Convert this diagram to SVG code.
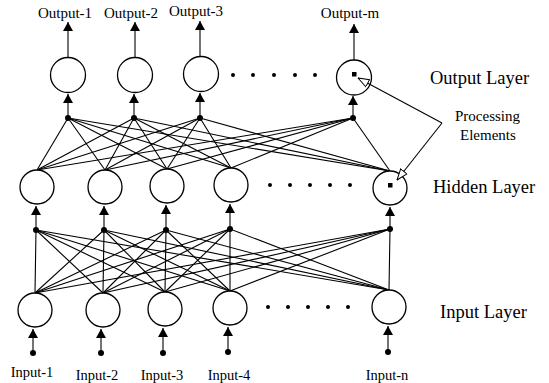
<svg xmlns="http://www.w3.org/2000/svg" width="549" height="383" viewBox="0 0 549 383">
<defs>
<marker id="ah" viewBox="0 0 9 10" refX="9" refY="5" markerWidth="9" markerHeight="10" markerUnits="userSpaceOnUse" orient="auto" preserveAspectRatio="none"><path d="M0,0 L9,5 L0,10 z" fill="#000"/></marker>
<marker id="oh" viewBox="0 0 12 10" refX="11.5" refY="5" markerWidth="12" markerHeight="10" markerUnits="userSpaceOnUse" orient="auto" preserveAspectRatio="none"><path d="M0.5,1 L11.5,5 L0.5,9 z" fill="#fff" stroke="#000" stroke-width="1"/></marker>
<style>
.n{fill:#fff;stroke:#000;stroke-width:1.3}
.c line{stroke:#000;stroke-width:1.1}
.a{stroke:#000;stroke-width:1.3;marker-end:url(#ah)}
.d{fill:#000}
.sq{fill:#000}
.t{font-family:"Liberation Serif","Times New Roman",serif;fill:#000}
.lab{font-size:15px;text-anchor:middle}
.inl{font-size:14.5px;text-anchor:middle}
.lay{font-size:18.5px}
.pe{font-size:15px}
.p{stroke:#000;stroke-width:1.1;fill:none;marker-end:url(#oh)}
</style>
</defs>
<rect width="549" height="383" fill="#fff"/>

<g id="connectors" class="c">
<line x1="68" y1="118" x2="37" y2="170"/><line x1="68" y1="118" x2="105" y2="170"/><line x1="68" y1="118" x2="167" y2="169"/><line x1="68" y1="118" x2="231" y2="168"/><line x1="68" y1="118" x2="390" y2="171"/>
<line x1="134" y1="118" x2="37" y2="170"/><line x1="134" y1="118" x2="105" y2="170"/><line x1="134" y1="118" x2="167" y2="169"/><line x1="134" y1="118" x2="231" y2="168"/><line x1="134" y1="118" x2="390" y2="171"/>
<line x1="200" y1="118" x2="37" y2="170"/><line x1="200" y1="118" x2="105" y2="170"/><line x1="200" y1="118" x2="167" y2="169"/><line x1="200" y1="118" x2="231" y2="168"/><line x1="200" y1="118" x2="390" y2="171"/>
<line x1="353" y1="118" x2="37" y2="170"/><line x1="353" y1="118" x2="105" y2="170"/><line x1="353" y1="118" x2="167" y2="169"/><line x1="353" y1="118" x2="231" y2="168"/><line x1="353" y1="118" x2="390" y2="171"/>
<line x1="36" y1="230" x2="35" y2="293"/><line x1="36" y1="230" x2="103" y2="293"/><line x1="36" y1="230" x2="165" y2="292"/><line x1="36" y1="230" x2="230" y2="291"/><line x1="36" y1="230" x2="389" y2="290"/>
<line x1="104" y1="230" x2="35" y2="293"/><line x1="104" y1="230" x2="103" y2="293"/><line x1="104" y1="230" x2="165" y2="292"/><line x1="104" y1="230" x2="230" y2="291"/><line x1="104" y1="230" x2="389" y2="290"/>
<line x1="166" y1="230" x2="35" y2="293"/><line x1="166" y1="230" x2="103" y2="293"/><line x1="166" y1="230" x2="165" y2="292"/><line x1="166" y1="230" x2="230" y2="291"/><line x1="166" y1="230" x2="389" y2="290"/>
<line x1="230" y1="229" x2="35" y2="293"/><line x1="230" y1="229" x2="103" y2="293"/><line x1="230" y1="229" x2="165" y2="292"/><line x1="230" y1="229" x2="230" y2="291"/><line x1="230" y1="229" x2="389" y2="290"/>
<line x1="390" y1="229" x2="35" y2="293"/><line x1="390" y1="229" x2="103" y2="293"/><line x1="390" y1="229" x2="165" y2="292"/><line x1="390" y1="229" x2="230" y2="291"/><line x1="390" y1="229" x2="389" y2="290"/>
<line class="a" x1="68" y1="57" x2="68" y2="22"/>
<line class="a" x1="135" y1="57" x2="135" y2="22"/>
<line class="a" x1="200" y1="56" x2="200" y2="21"/>
<line class="a" x1="354" y1="60" x2="354" y2="24"/>
<line class="a" x1="68" y1="118" x2="68" y2="94"/>
<line class="a" x1="134" y1="118" x2="134" y2="94"/>
<line class="a" x1="200" y1="118" x2="200" y2="93"/>
<line class="a" x1="353" y1="118" x2="353" y2="96"/>
<line class="a" x1="36" y1="230" x2="36" y2="206"/>
<line class="a" x1="104" y1="230" x2="104" y2="206"/>
<line class="a" x1="166" y1="230" x2="166" y2="205"/>
<line class="a" x1="230" y1="229" x2="230" y2="204"/>
<line class="a" x1="390" y1="229" x2="390" y2="207"/>
<line class="a" x1="33" y1="353" x2="33" y2="329"/>
<line class="a" x1="101" y1="353" x2="101" y2="329"/>
<line class="a" x1="163" y1="353" x2="163" y2="328"/>
<line class="a" x1="228" y1="352" x2="228" y2="327"/>
<line class="a" x1="388" y1="352" x2="388" y2="326"/>
</g>

<g id="dots">
<circle class="d" cx="68" cy="118" r="3"/><circle class="d" cx="134" cy="118" r="3"/><circle class="d" cx="200" cy="118" r="3"/><circle class="d" cx="353" cy="118" r="3"/>
<circle class="d" cx="36" cy="230" r="3"/><circle class="d" cx="104" cy="230" r="3"/><circle class="d" cx="166" cy="230" r="3"/><circle class="d" cx="230" cy="229" r="3"/><circle class="d" cx="390" cy="229" r="3"/>
<circle class="d" cx="33" cy="353" r="3"/><circle class="d" cx="101" cy="353" r="3"/><circle class="d" cx="163" cy="353" r="3"/><circle class="d" cx="228" cy="352" r="3"/><circle class="d" cx="388" cy="352" r="3"/>
<circle class="d" cx="233" cy="75" r="2"/><circle class="d" cx="253" cy="75" r="2"/><circle class="d" cx="274" cy="75" r="2"/><circle class="d" cx="295" cy="75" r="2"/><circle class="d" cx="315" cy="75" r="2"/>
<circle class="d" cx="270" cy="185" r="2"/><circle class="d" cx="290" cy="185" r="2"/><circle class="d" cx="310" cy="185" r="2"/><circle class="d" cx="330" cy="185" r="2"/><circle class="d" cx="350" cy="185" r="2"/>
<circle class="d" cx="268" cy="307" r="2"/><circle class="d" cx="288" cy="307" r="2"/><circle class="d" cx="308" cy="307" r="2"/><circle class="d" cx="328" cy="307" r="2"/><circle class="d" cx="348" cy="307" r="2"/>
</g>

<g id="output-1"><circle class="n" cx="68" cy="75" r="17.5"/><text class="t lab" x="65" y="18">Output-1</text></g>
<g id="output-2"><circle class="n" cx="135" cy="75" r="17.5"/><text class="t lab" x="131" y="18">Output-2</text></g>
<g id="output-3"><circle class="n" cx="201" cy="74" r="17.5"/><text class="t lab" x="196" y="16">Output-3</text></g>
<g id="output-m"><circle class="n" cx="354" cy="77.5" r="17.5"/><rect class="sq" x="352" y="72" width="4.5" height="4.5"/><text class="t lab" x="350" y="18">Output-m</text></g>

<g id="hidden-1"><circle class="n" cx="37" cy="187" r="17"/></g>
<g id="hidden-2"><circle class="n" cx="105" cy="187" r="17"/></g>
<g id="hidden-3"><circle class="n" cx="167" cy="186" r="17"/></g>
<g id="hidden-4"><circle class="n" cx="231" cy="185" r="17"/></g>
<g id="hidden-n"><circle class="n" cx="390" cy="188" r="17"/><rect class="sq" x="388" y="183" width="4.5" height="4.5"/></g>

<g id="input-1"><circle class="n" cx="35" cy="310" r="17"/><text class="t inl" x="32" y="377">Input-1</text></g>
<g id="input-2"><circle class="n" cx="103" cy="310" r="17"/><text class="t inl" x="97" y="380">Input-2</text></g>
<g id="input-3"><circle class="n" cx="165" cy="309" r="17"/><text class="t inl" x="162" y="380">Input-3</text></g>
<g id="input-4"><circle class="n" cx="230" cy="308" r="17"/><text class="t inl" x="229" y="380">Input-4</text></g>
<g id="input-n"><circle class="n" cx="389" cy="307" r="17"/><text class="t inl" x="387" y="380">Input-n</text></g>

<g id="pointer">
<path class="p" d="M442,123 L358,78"/>
<path class="p" d="M442,123 L397,180"/>
</g>

<g id="labels">
<text class="t lay" x="430" y="84">Output Layer</text>
<text class="t lay" x="433" y="193">Hidden Layer</text>
<text class="t lay" x="440" y="318">Input Layer</text>
<text class="t pe" x="455" y="121">Processing</text>
<text class="t pe" x="460" y="140">Elements</text>
</g>
</svg>
